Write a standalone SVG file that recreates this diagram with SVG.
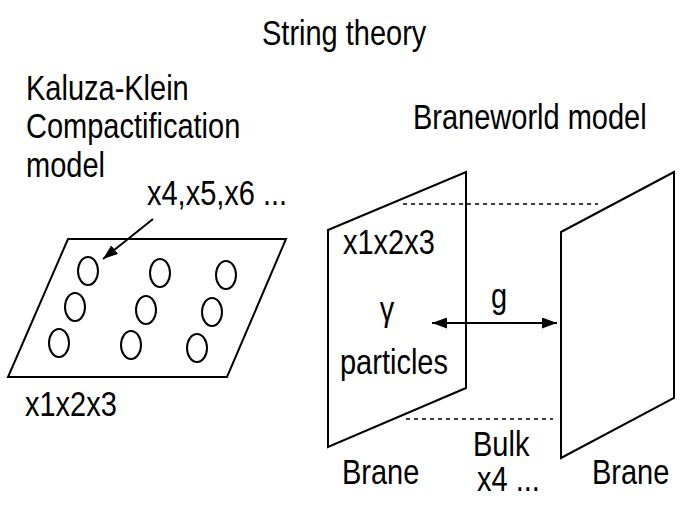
<svg xmlns="http://www.w3.org/2000/svg" width="692" height="506" viewBox="0 0 692 506">
<defs>
<style>
text{font-family:"Liberation Sans",Arial,sans-serif;font-size:29px;fill:#000}
.sh{fill:#fff;stroke:#000;stroke-width:2}
.ln{fill:none;stroke:#000;stroke-width:2}
.dash{fill:none;stroke:#000;stroke-width:1.5;stroke-dasharray:4 4}
</style>
<marker id="ah" viewBox="0 0 10 10" refX="10" refY="5" markerWidth="15" markerHeight="11" markerUnits="userSpaceOnUse" orient="auto-start-reverse" preserveAspectRatio="none">
<path d="M0,0 L10,5 L0,10 Z" fill="#000"/>
</marker>
</defs>
<rect width="692" height="506" fill="#fff"/>
<g id="title"><text transform="translate(262,45) scale(1,1.2)" font-size="30">String theory</text></g>
<g id="kk-label">
<text transform="translate(26,100) scale(1,1.2)" font-size="30">Kaluza-Klein</text>
<text transform="translate(26,138) scale(1,1.2)" font-size="30">Compactification</text>
<text transform="translate(26,177) scale(1,1.2)" font-size="30">model</text>
</g>
<g id="bw-label"><text transform="translate(413,129) scale(1,1.2)" font-size="30">Braneworld model</text></g>
<g id="kk-plane">
<polygon class="sh" points="68,239 286,239 227,377 8,377"/>
<ellipse class="ln" cx="88" cy="271" rx="10" ry="14"/>
<ellipse class="ln" cx="160" cy="273" rx="10" ry="14"/>
<ellipse class="ln" cx="226" cy="275" rx="10" ry="14"/>
<ellipse class="ln" cx="75" cy="307" rx="10" ry="14"/>
<ellipse class="ln" cx="146" cy="310" rx="10" ry="14"/>
<ellipse class="ln" cx="212" cy="312" rx="10" ry="14"/>
<ellipse class="ln" cx="59" cy="343" rx="10" ry="14"/>
<ellipse class="ln" cx="131" cy="345" rx="10" ry="14"/>
<ellipse class="ln" cx="197" cy="348" rx="10" ry="14"/>
</g>
<g id="kk-extra"><text transform="translate(147,205) scale(1,1.2)">x4,x5,x6 ...</text></g>
<g id="kk-dims"><text transform="translate(25,416) scale(1,1.2)">x1x2x3</text></g>
<g id="brane-left">
<polygon class="sh" points="328,230 466,172 466,388 328,447"/>
<text transform="translate(343,254) scale(1,1.2)">x1x2x3</text>
<text transform="translate(387,321) scale(1,1.2)" font-family="Liberation Serif,serif" font-size="21" text-anchor="middle">γ</text>
<text transform="translate(340,374) scale(1,1.2)">particles</text>
</g>
<g id="brane-right">
<polygon class="sh" points="561,232 674,172 674,398 561,458"/>
</g>
<g id="connectors">
<line class="dash" x1="403" y1="204" x2="598" y2="204"/>
<line class="dash" x1="406" y1="419" x2="553" y2="419"/>
<line class="ln" x1="153" y1="219" x2="103" y2="259" marker-end="url(#ah)" stroke-width="1.5"/>
<line class="ln" x1="432" y1="323" x2="557" y2="323" marker-start="url(#ah)" marker-end="url(#ah)"/>
</g>
<g id="labels">
<text transform="translate(491,308) scale(1,1.2)">g</text>
<text transform="translate(473,456) scale(1,1.2)">Bulk</text>
<text transform="translate(477,491) scale(1,1.2)">x4 ...</text>
<text transform="translate(342,484) scale(1,1.2)">Brane</text>
<text transform="translate(592,484) scale(1,1.2)">Brane</text>
</g>
</svg>
